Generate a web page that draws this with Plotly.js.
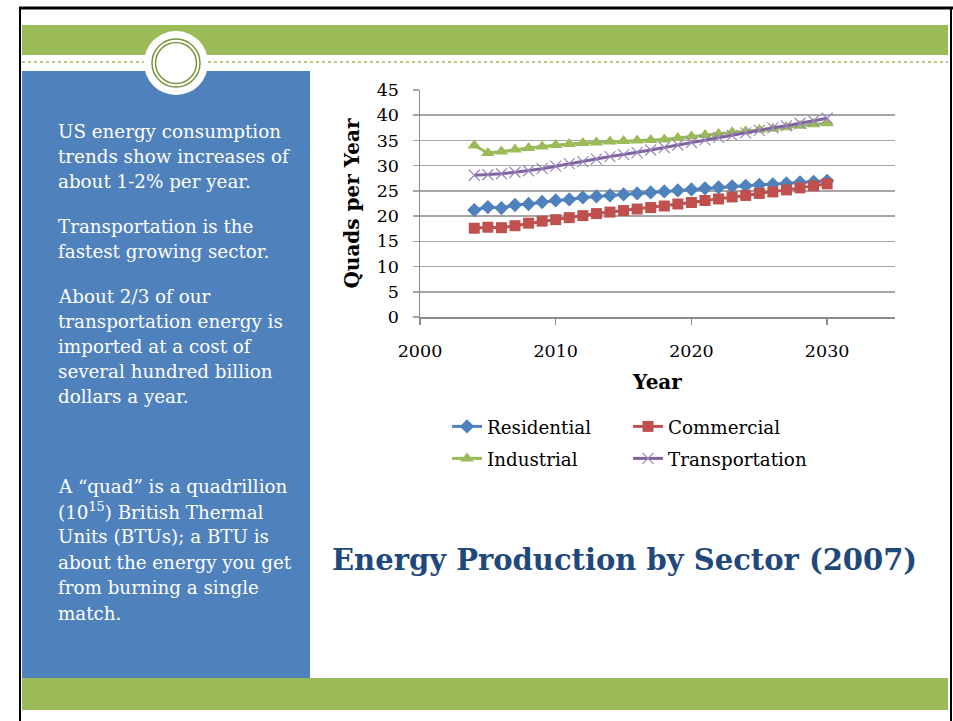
<!DOCTYPE html>
<html>
<head>
<meta charset="utf-8">
<script src="https://cdn.plot.ly/plotly-3.0.1.min.js"></script>
<style>html,body{margin:0;padding:0;background:#fff;}#chart{width:953px;height:721px;}</style>
</head>
<body>
<div id="chart"></div>
<script>
// ---- data ----
var years = [2004,2005,2006,2007,2008,2009,2010,2011,2012,2013,2014,2015,2016,2017,2018,2019,2020,2021,2022,2023,2024,2025,2026,2027,2028,2029,2030];
var residential = [21.2,21.8,21.6,22.2,22.4,22.8,23.1,23.3,23.7,23.9,24.1,24.3,24.5,24.7,24.9,25.1,25.3,25.5,25.7,25.9,26.0,26.2,26.3,26.5,26.7,26.8,27.0];
var commercial = [17.6,17.8,17.7,18.1,18.6,19.0,19.3,19.7,20.1,20.5,20.8,21.1,21.4,21.7,22.0,22.4,22.7,23.1,23.4,23.8,24.1,24.5,24.8,25.2,25.6,26.0,26.4];
var industrial = [34.0,32.5,32.8,33.2,33.5,33.8,34.1,34.3,34.5,34.6,34.8,34.9,35.0,35.1,35.2,35.5,35.8,36.1,36.3,36.6,36.8,37.1,37.3,37.6,37.9,38.2,38.4];
var transportation = [28.1,28.2,28.4,28.7,29.0,29.4,29.9,30.4,30.8,31.3,31.8,32.2,32.6,33.1,33.6,34.1,34.6,35.1,35.6,36.0,36.5,37.0,37.5,37.9,38.4,38.9,39.4];
var seriesNames = ['Residential','Commercial','Industrial','Transportation'];
var xTickVals = [2000,2010,2020,2030];
var yTickVals = [0,5,10,15,20,25,30,35,40,45];

var chartTitle = 'Energy Production by Sector (2007)';
var xTitle = 'Year';
var yTitle = 'Quads per Year';
var para1 = ['US energy consumption', 'trends show increases of', 'about 1-2% per year.'];
var para2 = ['Transportation is the', 'fastest growing sector.'];
var para3 = ['About 2/3 of our', 'transportation energy is', 'imported at a cost of', 'several hundred billion', 'dollars a year.'];
var para4 = ['A \u201cquad\u201d is a quadrillion', '(10<sup>15</sup>) British Thermal', 'Units (BTUs); a BTU is', 'about the energy you get', 'from burning a single', 'match.'];

// ---- layout helpers (pixel -> paper) ----
var W = 953, H = 721;
var M = {l: 420, r: 58, t: 90, b: 404};
var PW = W - M.l - M.r, PH = H - M.t - M.b;
function px(x) { return (x - M.l) / PW; }
function py(y) { return (H - M.b - y) / PH; }

var SERIF = '"DejaVu Serif", "Liberation Serif", serif';
var GREEN = '#9BBB59', BLUE = '#4F81BD', DKGREEN = '#77933C';
var TXT = 18.3;

function rect(x0, y0, x1, y1, color) {
  return {type: 'rect', xref: 'paper', yref: 'paper', layer: 'below',
    x0: px(x0), x1: px(x1), y0: py(y1), y1: py(y0),
    fillcolor: color, line: {width: 0}};
}
function hline(x0, x1, y, color, w, dash) {
  return {type: 'line', xref: 'paper', yref: 'paper', layer: 'below',
    x0: px(x0), x1: px(x1), y0: py(y), y1: py(y), line: {color: color, width: w, dash: dash || 'solid'}};
}
function vline(x, y0, y1, color, w) {
  return {type: 'line', xref: 'paper', yref: 'paper', layer: 'below',
    x0: px(x), x1: px(x), y0: py(y0), y1: py(y1), line: {color: color, width: w}};
}
function circ(cx, cy, r, fill, lc, lw) {
  return {type: 'circle', xref: 'paper', yref: 'paper', layer: 'below',
    x0: px(cx - r), x1: px(cx + r), y0: py(cy + r), y1: py(cy - r),
    fillcolor: fill, line: {color: lc, width: lw}};
}

var shapes = [
  hline(19, 953, 8, '#000', 3),
  vline(20, 8, 721, '#000', 2),
  vline(951, 8, 721, '#000', 2),
  rect(22, 25, 948, 55, GREEN),
  hline(22, 948, 62, GREEN, 1.5, 'dot'),
  rect(22, 71, 310, 678, BLUE),
  rect(22, 678, 948, 710, GREEN),
  circ(176, 63, 32, '#fff', '#fff', 0),
  circ(176, 63, 24, 'rgba(0,0,0,0)', DKGREEN, 1.5),
  circ(176, 63, 20.5, 'rgba(0,0,0,0)', DKGREEN, 1.5)
];

var annotations = [];
function addPara(lines, x, yFirst, step) {
  lines.forEach(function (t, i) {
    annotations.push({text: t, xref: 'paper', yref: 'paper', x: px(x), y: py(yFirst + i * step),
      xanchor: 'left', yanchor: 'middle', align: 'left', showarrow: false,
      font: {family: SERIF, size: TXT, color: '#fff'}});
  });
}
addPara(para1, 56, 131, 25.2);
addPara(para2, 56, 226, 25.2);
addPara(para3, 56, 296, 25.2);
addPara(para4, 56, 486, 25.4);
annotations.push({text: '<b>' + chartTitle + '</b>', xref: 'paper', yref: 'paper', x: px(624), y: py(560),
  xanchor: 'center', yanchor: 'middle', showarrow: false,
  font: {family: SERIF, size: 29, color: '#1F497D'}});

var colors = ['#4F81BD', '#C0504D', '#9BBB59', '#8064A2'];
var symbols = ['diamond', 'square', 'triangle-up', 'x-thin-open'];
var sizes = [11, 11, 12, 11];
var legendIds = ['legend', 'legend', 'legend2', 'legend2'];
var allY = [residential, commercial, industrial, transportation];

var traces = allY.map(function (vals, i) {
  return {
    x: years, y: vals, name: seriesNames[i], type: 'scatter', mode: 'lines+markers',
    legend: legendIds[i],
    line: {color: colors[i], width: 3},
    marker: i === 3 ? {symbol: symbols[i], size: sizes[i], line: {color: '#9B86BF', width: 1.2}, color: '#9B86BF'}
                    : {symbol: symbols[i], size: sizes[i], color: colors[i]}
  };
});

function legendCfg(yTopPx) {
  return {orientation: 'h', x: px(447), y: py(yTopPx), xanchor: 'left', yanchor: 'top',
    entrywidth: 136, entrywidthmode: 'pixels',
    font: {family: SERIF, size: TXT, color: '#000'}, bgcolor: 'rgba(0,0,0,0)'};
}

var layout = {
  width: W, height: H,
  margin: M,
  paper_bgcolor: '#fff', plot_bgcolor: 'rgba(0,0,0,0)',
  font: {family: SERIF, color: '#000'},
  showlegend: true,
  legend: legendCfg(408),
  legend2: legendCfg(440),
  xaxis: {
    range: [2000, 2035], tickvals: xTickVals, ticktext: xTickVals.map(String),
    showgrid: false, zeroline: false, showline: true, linecolor: '#8C8C8C', linewidth: 1.5,
    ticks: 'outside', ticklen: 6, tickcolor: '#8C8C8C', tickwidth: 1.5,
    tickfont: {family: SERIF, size: 17.5, color: '#000'}, ticklabelstandoff: 11,
    title: {text: '<b>' + xTitle + '</b>', font: {family: SERIF, size: 20, color: '#000'}, standoff: 15},
    automargin: false, fixedrange: true
  },
  yaxis: {
    range: [0, 45], tickvals: yTickVals, ticktext: yTickVals.map(String),
    showgrid: true, gridcolor: '#A6A6A6', gridwidth: 1.5, zeroline: false,
    showline: true, linecolor: '#8C8C8C', linewidth: 1.5,
    ticks: 'outside', ticklen: 6, tickcolor: '#A6A6A6', tickwidth: 1.5,
    tickfont: {family: SERIF, size: 17.5, color: '#000'}, ticklabelstandoff: 10,
    title: {text: '<b>' + yTitle + '</b>', font: {family: SERIF, size: 20, color: '#000'}, standoff: 11},
    automargin: false, fixedrange: true
  },
  shapes: shapes,
  annotations: annotations
};

Plotly.newPlot('chart', traces, layout, {displayModeBar: false, staticPlot: true});
</script>
</body>
</html>
